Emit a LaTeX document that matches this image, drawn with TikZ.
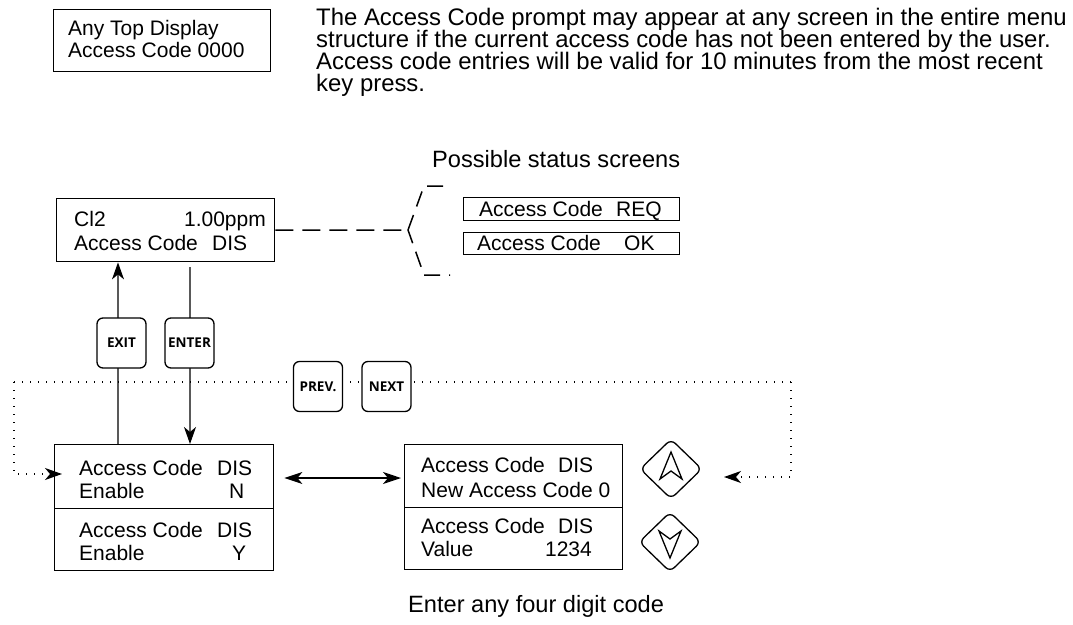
\documentclass[tikz,border=0pt]{standalone}
\usepackage{fontspec}
\setmainfont{Liberation Sans}
\newfontfamily\keyfont{Open Sans}
\usetikzlibrary{arrows.meta,shapes.geometric,calc}
\begin{document}
\begin{tikzpicture}[x=1pt,y=-1pt,
  scr/.style={draw,line width=1.4pt,rectangle,inner sep=0pt,anchor=north west},
  txt/.style={anchor=base west,inner sep=0pt,font=\fontsize{21}{22}\selectfont},
  txtr/.style={anchor=base east,inner sep=0pt,font=\fontsize{21}{22}\selectfont},
  note/.style={anchor=base west,inner sep=0pt,font=\fontsize{23.6}{22}\selectfont},
  para/.style={anchor=base west,inner sep=0pt,font=\fontsize{23.9}{22}\selectfont},
  keybox/.style={draw,line width=1.3pt,rounded corners=6pt,minimum width=49pt,minimum height=50pt,inner sep=0pt,fill=white,font=\keyfont\bfseries\fontsize{13.5}{14}\selectfont},
  arrowkey/.style={draw,diamond,line width=1.3pt,rounded corners=6pt,minimum width=62pt,minimum height=60pt,inner sep=0pt},
  tipk/.style={-{Stealth[length=17pt,width=12pt,inset=5pt,color=black]}},
  dbl/.style={line width=1.2pt,{Stealth[length=18pt,width=12pt,inset=5pt]}-{Stealth[length=18pt,width=12pt,inset=5pt]}},
  dashline/.style={line width=1.5pt,dash pattern=on 18pt off 9pt},
  braceline/.style={line width=1.5pt,dash pattern=on 16pt off 9pt},
  dotline/.style={line width=1.4pt,dash pattern=on 1.4pt off 6.6pt},
  grayline/.style={line width=1.2pt,draw=black!65},
  glyph/.style={line width=1.3pt,line join=miter}
]
\useasboundingbox (0,0) rectangle (1073,624);

% top note
\node[scr,minimum width=217pt,minimum height=62pt] (topbox) at (53,9) {};
\node[txt] (top1) at (68,35) {Any Top Display};
\node[txt] (top2) at (68,57) {Access Code 0000};

\node[para] (p1) at (316,25) {The Access Code prompt may appear at any screen in the entire menu};
\node[para] (p2) at (316,47) {structure if the current access code has not been entered by the user.};
\node[para] (p3) at (316,69) {Access code entries will be valid for 10 minutes from the most recent};
\node[para] (p4) at (316,91) {key press.};

% status screens
\node[note] (poss) at (432,167) {Possible status screens};
\node[scr,minimum width=216pt,minimum height=23pt] (req) at (463,197) {};
\node[txt] (reqt) at (479,216) {Access Code};
\node[txt] (reqv) at (616,216) {REQ};
\node[scr,minimum width=216pt,minimum height=22pt] (okb) at (463,232) {};
\node[txt] (okt) at (477,250) {Access Code};
\node[txt] (okv) at (624,250) {OK};

% Cl2 screen
\node[scr,minimum width=218pt,minimum height=63pt] (cl2) at (56,198) {};
\node[txt] (cl2a) at (74,226) {Cl2};
\node[txtr] (cl2b) at (266,226) {1.00ppm};
\node[txt] (cl2c) at (74,250) {Access Code};
\node[txt] (cl2d) at (212,250) {DIS};

% dashed connector and brace
\coordinate (bmid) at (408,230);
\coordinate (bt) at (424,186);
\coordinate (bte) at (447,186);
\coordinate (bb) at (424,275);
\coordinate (bbe) at (450,275);
\draw[dashline] (cl2.east) -- (bmid);
\draw[braceline] (bmid) -- (bt) -- (bte);
\draw[braceline,dash phase=2pt] (bmid) -- (bb) -- (bbe);

% lower left screens
\node[scr,minimum width=219pt,minimum height=64pt] (boxA) at (54,444) {};
\node[txt] (a1) at (79,475) {Access Code};
\node[txt] (a2) at (217,475) {DIS};
\node[txt] (a3) at (79,498) {Enable};
\node[txt] (a4) at (229,498) {N};
\node[scr,minimum width=219pt,minimum height=62pt] (boxB) at (54,508) {};
\node[txt] (b1) at (79,537) {Access Code};
\node[txt] (b2) at (217,537) {DIS};
\node[txt] (b3) at (79,560) {Enable};
\node[txt] (b4) at (232,560) {Y};

% lower right screens
\node[scr,minimum width=218pt,minimum height=63pt] (boxC) at (404,444) {};
\node[txt] (c1) at (421,472) {Access Code};
\node[txt] (c2) at (558,472) {DIS};
\node[txt] (c3) at (421,497) {New Access Code 0};
\node[scr,minimum width=218pt,minimum height=62pt] (boxD) at (404,507) {};
\node[txt] (d1) at (421,533) {Access Code};
\node[txt] (d2) at (558,533) {DIS};
\node[txt] (d3) at (421,556) {Value};
\node[txtr] (d4) at (592,556) {1234};

\node[note] (hint) at (408,612) {Enter any four digit code};

% vertical connectors
\coordinate (exitx) at (118,0);
\coordinate (enterx) at (190,0);
\draw[grayline,tipk] (boxA.north -| exitx) -- (cl2.south -| exitx);
\draw[grayline,tipk] ([yshift=-5pt]cl2.south -| enterx) -- (boxA.north -| enterx);

% dotted loops
\coordinate (tl) at (14,382);
\coordinate (tr) at (791,382);
\coordinate (inA) at (62,474);
\coordinate (inR) at (724,477);
\draw[dotline] (tl) -- (tr);
\draw[dotline,tipk] (tl) |- (inA);
\draw[dotline,tipk] (tr) |- (inR);

% keys
\node[keybox] (exitk) at (121.5,343) {EXIT};
\node[keybox] (enterk) at (189.5,343) {ENTER};
\node[keybox] (prevk) at (318,386.5) {PREV.};
\node[keybox] (nextk) at (386.5,386.5) {NEXT};

% double arrow
\coordinate (dy) at (0,478);
\draw[dbl] ([xshift=10pt]boxA.east |- dy) -- ([xshift=-3pt]boxC.west |- dy);

% arrow keys
\node[arrowkey] (upk) at (671,469) {};
\node[arrowkey] (downk) at (670,542) {};
\draw[glyph] ($(upk)+(0,-17)$) -- ($(upk)+(11,10)$) -- ($(upk)+(0,2)$) -- ($(upk)+(-11,10)$) -- cycle;
\draw[glyph] ($(downk)+(0,16)$) -- ($(downk)+(11,-11)$) -- ($(downk)+(0,-3)$) -- ($(downk)+(-11,-11)$) -- cycle;
\end{tikzpicture}
\end{document}
